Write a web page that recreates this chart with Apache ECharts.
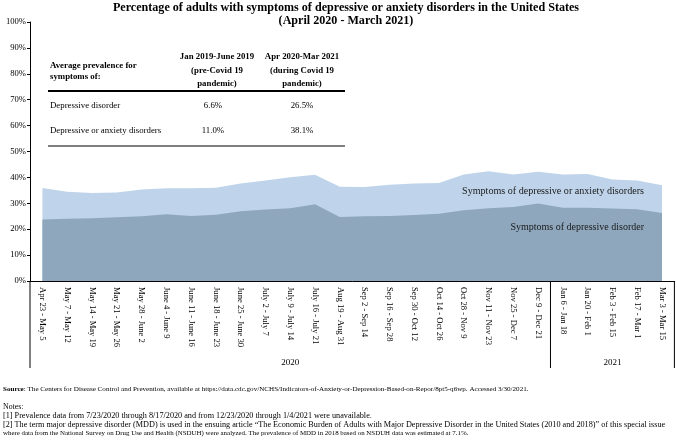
<!DOCTYPE html>
<html>
<head>
<meta charset="utf-8">
<script src="https://cdn.jsdelivr.net/npm/echarts@6/dist/echarts.min.js"></script>
<style>html,body{margin:0;padding:0;background:#fff}#c{width:677px;height:442px}</style>
</head>
<body>
<div id="c"></div>
<script>
var categories = ["Apr 23 - May 5","May 7 - May 12","May 14 - May 19","May 21 - May 26","May 28 - June 2","June 4 - June 9","June 11 - June 16","June 18 - June 23","June 25 - June 30","July 2 - July 7","July 9 - July 14","July 16 - July 21","Aug 19 - Aug 31","Sep 2 - Sep 14","Sep 16 - Sep 28","Sep 30 - Oct 12","Oct 14 - Oct 26","Oct 28 - Nov 9","Nov 11 - Nov 23","Nov 25 - Dec 7","Dec 9 - Dec 21","Jan 6 - Jan 18","Jan 20 - Feb 1","Feb 3 - Feb 15","Feb 17 - Mar 1","Mar 3 - Mar 15"];
var anxietyOrDepression = [35.9,34.5,34.0,34.2,35.3,35.8,35.8,36.0,37.6,38.8,40.1,41.0,36.4,36.3,37.2,37.6,37.8,41.1,42.4,41.1,42.2,41.1,41.3,39.2,38.8,37.0];
var depressive = [23.7,24.0,24.2,24.6,25.0,25.8,25.1,25.6,26.9,27.6,28.1,29.6,24.7,25.0,25.1,25.5,26.0,27.3,28.1,28.6,29.9,28.3,28.3,28.0,27.7,26.3];
var yearGroups = [{label:"2020", from:0, to:20}, {label:"2021", from:21, to:25}];
var titleLines = ["Percentage of adults with symptoms of depressive or anxiety disorders in the United States","(April 2020 - March 2021)"];
var tableHeader = ["Average prevalence for\nsymptoms of:", "Jan 2019-June 2019\n(pre-Covid 19\npandemic)", "Apr 2020-Mar 2021\n(during Covid 19\npandemic)"];
var tableRows = [["Depressive disorder","6.6%","26.5%"],["Depressive or anxiety disorders","11.0%","38.1%"]];
var seriesNames = ["Symptoms of depressive or anxiety disorders","Symptoms of depressive disorder"];
var sourceText = "The Centers for Disease Control and Prevention, available at https://data.cdc.gov/NCHS/Indicators-of-Anxiety-or-Depression-Based-on-Repor/8pt5-q6wp. Accessed 3/30/2021.";
var notes = ["Notes:","[1] Prevalence data from 7/23/2020 through 8/17/2020 and from 12/23/2020 through 1/4/2021 were unavailable.","[2] The term major depressive disorder (MDD) is used in the ensuing article \u201cThe Economic Burden of Adults with Major Depressive Disorder in the United States (2010 and 2018)\u201d of this special issue","where data from the National Survey on Drug Use and Health (NSDUH) were analyzed. The prevalence of MDD in 2018 based on NSDUH data was estimated at 7.1%."];

var FONT = "'Liberation Serif','Times New Roman',serif";
var chart = echarts.init(document.getElementById('c'), null, {renderer:'canvas'});
chart.setOption({
  animation:false,
  grid:{left:30, right:2.6, top:22, bottom:161, containLabel:false},
  xAxis:{type:'category', data:categories, boundaryGap:true,
    axisLine:{lineStyle:{color:'#000', width:1}},
    axisTick:{show:false},
    axisLabel:{rotate:-90, interval:0, margin:6, fontSize:8.6, color:'#000', fontFamily:FONT}},
  yAxis:{type:'value', min:0, max:100, interval:10,
    axisLine:{show:true, lineStyle:{color:'#000', width:1}},
    axisTick:{show:true, length:3, lineStyle:{color:'#000'}},
    splitLine:{show:false},
    axisLabel:{formatter:'{value}%', fontSize:8.6, color:'#000', margin:4, fontFamily:FONT}},
  series:[
    {name:seriesNames[0], type:'line', data:anxietyOrDepression, symbol:'none', lineStyle:{width:0}, areaStyle:{color:'#bfd4ea', opacity:1}, z:1},
    {name:seriesNames[1], type:'line', data:depressive, symbol:'none', lineStyle:{width:0}, areaStyle:{color:'#8fa7bd', opacity:1}, z:2}
  ]
});

function px(ci, v){ return chart.convertToPixel({gridIndex:0}, [ci, v]); }
var g = [];
var p0 = px(0,0), pL = px(categories.length-1,0);
var half = (px(1,0)[0]-p0[0])/2;
var leftX = p0[0]-half, rightX = pL[0]+half, baseY = p0[1];
var lineBottom = 368;
g.push({type:'line', shape:{x1:leftX, y1:baseY, x2:leftX, y2:lineBottom}, style:{stroke:'#000', lineWidth:1}});
g.push({type:'line', shape:{x1:rightX, y1:baseY, x2:rightX, y2:lineBottom}, style:{stroke:'#000', lineWidth:1}});
yearGroups.forEach(function(yg, i){
  var a = px(yg.from,0)[0], b = px(yg.to,0)[0];
  g.push({type:'text', x:(a+b)/2, y:363, style:{text:yg.label, font:'9px '+FONT, fill:'#000', textAlign:'center', textVerticalAlign:'middle'}});
  if (i>0){ var sx = a - half; g.push({type:'line', shape:{x1:sx, y1:baseY, x2:sx, y2:lineBottom}, style:{stroke:'#000', lineWidth:1}}); }
});
// Title
g.push({type:'text', x:346, y:8, style:{text:titleLines[0], font:'bold 12.1px '+FONT, fill:'#000', textAlign:'center', textVerticalAlign:'middle'}});
g.push({type:'text', x:346, y:21, style:{text:titleLines[1], font:'bold 12.1px '+FONT, fill:'#000', textAlign:'center', textVerticalAlign:'middle'}});
// Series labels
g.push({type:'text', x:644, y:191, z:10, style:{text:seriesNames[0], font:'10.1px '+FONT, fill:'#1a1a1a', textAlign:'right', textVerticalAlign:'middle'}});
g.push({type:'text', x:644, y:227, z:10, style:{text:seriesNames[1], font:'10px '+FONT, fill:'#1a1a1a', textAlign:'right', textVerticalAlign:'middle'}});
// Table
g.push({type:'text', x:50, y:71, style:{text:tableHeader[0], font:'bold 8.8px '+FONT, fill:'#000', textAlign:'left', textVerticalAlign:'middle', lineHeight:11}});
g.push({type:'text', x:217, y:70.5, style:{text:tableHeader[1], font:'bold 8.8px '+FONT, fill:'#000', textAlign:'center', textVerticalAlign:'middle', lineHeight:13.5}});
g.push({type:'text', x:302, y:70.5, style:{text:tableHeader[2], font:'bold 8.8px '+FONT, fill:'#000', textAlign:'center', textVerticalAlign:'middle', lineHeight:13.5}});
g.push({type:'line', shape:{x1:48, y1:91, x2:345, y2:91}, style:{stroke:'#000', lineWidth:2}});
var rowY = [105.5, 130.5];
tableRows.forEach(function(r, i){
  g.push({type:'text', x:50, y:rowY[i], style:{text:r[0], font:'8.8px '+FONT, fill:'#000', textAlign:'left', textVerticalAlign:'middle'}});
  g.push({type:'text', x:213, y:rowY[i], style:{text:r[1], font:'8.8px '+FONT, fill:'#000', textAlign:'center', textVerticalAlign:'middle'}});
  g.push({type:'text', x:302, y:rowY[i], style:{text:r[2], font:'8.8px '+FONT, fill:'#000', textAlign:'center', textVerticalAlign:'middle'}});
});
g.push({type:'line', shape:{x1:48, y1:146, x2:345, y2:146}, style:{stroke:'#000', lineWidth:1}});
// Source & notes
g.push({type:'text', x:3, y:389, style:{text:'{b|Source}: '+sourceText, rich:{b:{font:'bold 7.1px '+FONT, fill:'#000'}}, font:'7.1px '+FONT, fill:'#000', textAlign:'left', textVerticalAlign:'middle'}});
var noteY = [406.5, 416, 424.5, 433];
var noteSize = [7.8, 8.2, 8.2, 6.9];
notes.forEach(function(t, i){
  g.push({type:'text', x:3, y:noteY[i], style:{text:t, font:noteSize[i]+'px '+FONT, fill:'#000', textAlign:'left', textVerticalAlign:'middle'}});
});
chart.setOption({graphic:g});
</script>
</body>
</html>
